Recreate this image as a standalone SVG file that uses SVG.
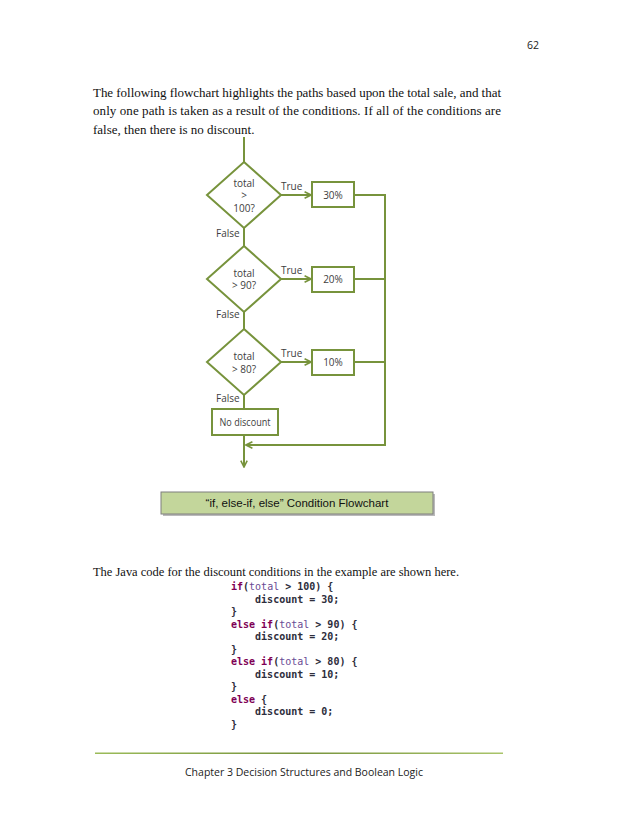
<svg xmlns="http://www.w3.org/2000/svg" width="630" height="815" viewBox="0 0 630 815">
<defs>
<style>
.ln{fill:none;stroke:#77933c;stroke-width:2}
.box{fill:#fff;stroke:#77933c;stroke-width:2}
.lbl{font-family:"Open Sans","Noto Sans",sans-serif;font-size:10px;fill:#404040}
.c{text-anchor:middle}
.para{font-family:"Liberation Serif","Times New Roman",serif;font-size:13px;fill:#111}
.code{font-family:"DejaVu Sans Mono","Liberation Mono",monospace;font-size:10px;font-weight:bold;fill:#2e2e3c}
.kw{fill:#7f0055}
.v{fill:#6a4a94;font-weight:normal}
.foot{font-family:"Open Sans","Noto Sans",sans-serif;font-size:10.5px;fill:#222}
</style>
<marker id="arr" viewBox="0 0 10 10" refX="9" refY="5" markerWidth="8" markerHeight="8" markerUnits="userSpaceOnUse" orient="auto">
<path d="M1,1 L9,5 L1,9" fill="none" stroke="#77933c" stroke-width="2"/>
</marker>
<linearGradient id="fg" x1="0" x2="1" y1="0" y2="0">
<stop offset="0" stop-color="#9bbb59"/><stop offset="0.5" stop-color="#77933c"/><stop offset="1" stop-color="#a9c46a"/>
</linearGradient>
</defs>
<rect width="630" height="815" fill="#fff"/>

<text class="foot" x="527" y="49">62</text>
<text class="para" x="93" y="97" textLength="408" lengthAdjust="spacing">The following flowchart highlights the paths based upon the total sale, and that</text>
<text class="para" x="93" y="115" textLength="408" lengthAdjust="spacing">only one path is taken as a result of the conditions.  If all of the conditions are</text>
<text class="para" x="93" y="134">false, then there is no discount.</text>

<g id="connectors">
<line class="ln" x1="244" y1="137" x2="244" y2="162"/>
<line class="ln" x1="244" y1="228" x2="244" y2="246"/>
<line class="ln" x1="244" y1="312" x2="244" y2="329"/>
<line class="ln" x1="244" y1="395" x2="244" y2="409"/>
<line class="ln" x1="281" y1="195" x2="311" y2="195" marker-end="url(#arr)"/>
<line class="ln" x1="281" y1="279" x2="311" y2="279" marker-end="url(#arr)"/>
<line class="ln" x1="281" y1="362" x2="311" y2="362" marker-end="url(#arr)"/>
<line class="ln" x1="354" y1="195" x2="385" y2="195"/>
<line class="ln" x1="354" y1="279" x2="385" y2="279"/>
<line class="ln" x1="354" y1="362" x2="385" y2="362"/>
<polyline class="ln" points="385,194 385,445 246,445" marker-end="url(#arr)"/>
<line class="ln" x1="244" y1="435" x2="244" y2="467" marker-end="url(#arr)"/>
<text class="lbl" x="281" y="190">True</text>
<text class="lbl" x="281" y="273.5">True</text>
<text class="lbl" x="281" y="356.5">True</text>
<text class="lbl" x="216" y="237">False</text>
<text class="lbl" x="216" y="318">False</text>
<text class="lbl" x="216" y="402">False</text>
</g>

<g id="d1">
<polygon class="box" points="244,162 281,195 244,228 207,195"/>
<text class="lbl c" x="244" y="186.5">total</text>
<text class="lbl c" x="244" y="199">&gt;</text>
<text class="lbl c" x="244" y="211.5">100?</text>
</g>
<g id="b30">
<rect class="box" x="312" y="182" width="42" height="25"/>
<text class="lbl c" x="333" y="198.5">30%</text>
</g>
<g id="d2">
<polygon class="box" points="244,246 281,279 244,312 207,279"/>
<text class="lbl c" x="244" y="276.5">total</text>
<text class="lbl c" x="244" y="289">&gt; 90?</text>
</g>
<g id="b20">
<rect class="box" x="312" y="267" width="42" height="25"/>
<text class="lbl c" x="333" y="283">20%</text>
</g>
<g id="d3">
<polygon class="box" points="244,329 281,362 244,395 207,362"/>
<text class="lbl c" x="244" y="359.5">total</text>
<text class="lbl c" x="244" y="372.5">&gt; 80?</text>
</g>
<g id="b10">
<rect class="box" x="312" y="350" width="42" height="25"/>
<text class="lbl c" x="333" y="366">10%</text>
</g>
<g id="nd">
<rect class="box" x="212" y="409" width="66" height="26"/>
<text class="lbl c" x="245" y="425.5" textLength="51" lengthAdjust="spacingAndGlyphs">No discount</text>
</g>

<g id="caption">
<rect x="163" y="494" width="272" height="22" fill="#8c8c8c" opacity="0.6"/>
<rect x="161" y="492" width="272" height="22" fill="#c3d69b" stroke="#7f7f7f" stroke-width="1"/>
<text x="297" y="507" text-anchor="middle" font-family="Liberation Sans,Arial,sans-serif" font-size="11.5px" fill="#111">“if, else-if, else” Condition Flowchart</text>
</g>

<text class="para" x="93" y="576" textLength="366" lengthAdjust="spacingAndGlyphs">The Java code for the discount conditions in the example are shown here.</text>

<g id="code">
<text class="code" x="231" y="590"><tspan class="kw">if</tspan>(<tspan class="v">total</tspan> &gt; 100) {</text>
<text class="code" x="231" y="602.5" xml:space="preserve">    discount = 30;</text>
<text class="code" x="231" y="615">}</text>
<text class="code" x="231" y="627.5"><tspan class="kw">else if</tspan>(<tspan class="v">total</tspan> &gt; 90) {</text>
<text class="code" x="231" y="640" xml:space="preserve">    discount = 20;</text>
<text class="code" x="231" y="652.5">}</text>
<text class="code" x="231" y="665"><tspan class="kw">else if</tspan>(<tspan class="v">total</tspan> &gt; 80) {</text>
<text class="code" x="231" y="677.5" xml:space="preserve">    discount = 10;</text>
<text class="code" x="231" y="690">}</text>
<text class="code" x="231" y="702.5"><tspan class="kw">else</tspan> {</text>
<text class="code" x="231" y="715" xml:space="preserve">    discount = 0;</text>
<text class="code" x="231" y="727.5">}</text>
</g>

<rect x="95" y="752.5" width="408" height="1.5" fill="url(#fg)"/>
<text class="foot" x="185" y="776">Chapter 3 Decision Structures and Boolean Logic</text>
</svg>
